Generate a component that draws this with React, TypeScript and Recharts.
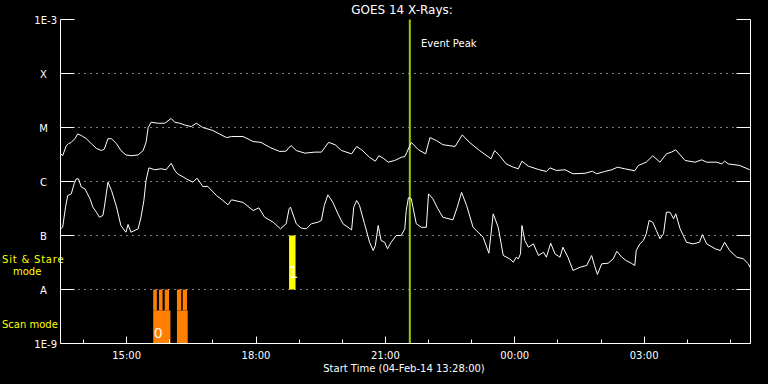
import React from "react";
import { ComposedChart, Line, XAxis, YAxis, ReferenceLine, ReferenceArea } from "recharts";

// minutes after the start time (04-Feb-14 13:28:00), flux in W/m^2
const longTime = [0, 3, 8, 11, 15, 20, 24, 29, 36, 43, 50, 57, 61, 66, 71, 78, 84, 91, 98, 108, 115, 119, 122, 126, 136, 145, 154, 159, 166, 173, 182, 189, 198, 212, 221, 231, 238, 254, 268, 279, 291, 305, 314, 318, 321, 328, 340, 354, 363, 368, 373, 382, 391, 405, 412, 419, 430, 438, 443, 449, 456, 465, 474, 479, 482, 488, 498, 508, 514, 523, 532, 549, 559, 569, 583, 599, 604, 611, 620, 630, 637, 642, 651, 665, 676, 681, 690, 702, 713, 730, 740, 746, 757, 767, 775, 785, 799, 804, 815, 824, 834, 843, 850, 856, 869, 883, 892, 899, 913, 920, 924, 929, 945, 959];
const longFlux = [3.3e-6, 3.0e-6, 4.6e-6, 5.0e-6, 5.3e-6, 6.2e-6, 7.6e-6, 7.1e-6, 6.2e-6, 5.0e-6, 4.1e-6, 3.75e-6, 4.0e-6, 6.2e-6, 6.2e-6, 5.0e-6, 3.75e-6, 3.1e-6, 3.0e-6, 3.1e-6, 3.75e-6, 5.3e-6, 1.0e-5, 1.25e-5, 1.2e-5, 1.2e-5, 1.47e-5, 1.25e-5, 1.2e-5, 1.11e-5, 1.04e-5, 1.2e-5, 1.0e-5, 8.8e-6, 7.6e-6, 6.5e-6, 6.8e-6, 6.8e-6, 5.5e-6, 5.3e-6, 4.3e-6, 3.6e-6, 3.65e-6, 4.3e-6, 4.6e-6, 3.75e-6, 3.35e-6, 3.5e-6, 3.5e-6, 4.3e-6, 5.3e-6, 4.8e-6, 3.75e-6, 3.25e-6, 4.45e-6, 3.86e-6, 2.8e-6, 2.38e-6, 3.0e-6, 2.7e-6, 2.28e-6, 2.45e-6, 2.8e-6, 2.9e-6, 3.5e-6, 5.3e-6, 3.86e-6, 3.25e-6, 6.5e-6, 5.74e-6, 4.8e-6, 4.45e-6, 7.3e-6, 5.3e-6, 3.75e-6, 2.63e-6, 3.75e-6, 3.0e-6, 2.12e-6, 1.84e-6, 1.72e-6, 2.38e-6, 1.92e-6, 1.67e-6, 1.53e-6, 1.79e-6, 1.6e-6, 1.65e-6, 1.39e-6, 1.42e-6, 1.55e-6, 1.39e-6, 1.53e-6, 1.65e-6, 1.84e-6, 1.72e-6, 1.58e-6, 1.98e-6, 2.28e-6, 3.0e-6, 2.28e-6, 3.25e-6, 3.5e-6, 3.86e-6, 2.45e-6, 2.28e-6, 2.52e-6, 2.28e-6, 2.28e-6, 2.12e-6, 2.38e-6, 2.12e-6, 1.98e-6, 1.65e-6];

const shortTime = [0, 3, 7, 10, 15, 19, 22, 25, 29, 34, 41, 45, 50, 54, 59, 61, 66, 71, 78, 84, 91, 94, 98, 108, 112, 116, 119, 123, 131, 140, 147, 154, 159, 163, 175, 184, 190, 198, 205, 217, 226, 233, 238, 254, 268, 276, 284, 296, 306, 314, 318, 320, 328, 335, 342, 349, 358, 363, 367, 372, 379, 386, 393, 400, 405, 408, 412, 416, 423, 430, 435, 438, 442, 446, 451, 455, 460, 467, 474, 479, 481, 484, 488, 495, 502, 509, 512, 518, 525, 532, 546, 552, 558, 565, 574, 588, 596, 602, 609, 616, 625, 630, 634, 637, 640, 642, 646, 651, 658, 665, 672, 676, 682, 688, 695, 699, 706, 713, 723, 732, 739, 743, 747, 753, 762, 769, 774, 781, 787, 794, 799, 801, 806, 811, 815, 819, 824, 829, 834, 839, 843, 848, 853, 856, 862, 871, 880, 889, 893, 899, 911, 918, 924, 931, 941, 950, 957, 959];
const shortFlux = [1.33e-7, 1.42e-7, 3.35e-7, 5.5e-7, 5.9e-7, 9.1e-7, 1.12e-6, 1.12e-6, 7.85e-7, 7.3e-7, 4.8e-7, 3.35e-7, 2.7e-7, 2.18e-7, 2.35e-7, 3.35e-7, 9.7e-7, 6.8e-7, 3.35e-7, 1.53e-7, 1.15e-7, 1.6e-7, 1.15e-7, 1.33e-7, 2.18e-7, 4.45e-7, 1.04e-6, 1.79e-6, 1.65e-6, 1.72e-6, 1.65e-6, 2.18e-6, 1.6e-6, 1.39e-6, 1.12e-6, 9.7e-7, 1.15e-6, 8.1e-7, 8.1e-7, 5.5e-7, 4.45e-7, 3.7e-7, 4.58e-7, 4.1e-7, 2.9e-7, 3.25e-7, 2.18e-7, 1.76e-7, 1.33e-7, 1.65e-7, 3.12e-7, 3.35e-7, 1.65e-7, 1.37e-7, 1.33e-7, 1.65e-7, 1.76e-7, 1.9e-7, 3.6e-7, 5.67e-7, 4.1e-7, 2.52e-7, 1.65e-7, 1.42e-7, 1.27e-7, 3.35e-7, 4.45e-7, 3.6e-7, 1.65e-7, 7.5e-8, 5.27e-8, 6.5e-8, 1.53e-7, 8.07e-8, 7.5e-8, 5.67e-8, 7.5e-8, 1.0e-7, 1.0e-7, 1.33e-7, 2.9e-7, 5.0e-7, 4.8e-7, 1.65e-7, 1.42e-7, 1.42e-7, 5.9e-7, 4.8e-7, 3.12e-7, 2.18e-7, 1.95e-7, 3.35e-7, 6.3e-7, 3.6e-7, 1.42e-7, 9.3e-8, 4.7e-8, 2.52e-7, 1.42e-7, 4.26e-8, 3.7e-8, 3.2e-8, 3.96e-8, 3.7e-8, 4.58e-8, 1.53e-7, 8.07e-8, 6.07e-8, 7.0e-8, 4.26e-8, 4.9e-8, 3.96e-8, 7.2e-8, 4.58e-8, 3.96e-8, 6.07e-8, 3.96e-8, 2.25e-8, 2.59e-8, 2.78e-8, 4.26e-8, 2.78e-8, 1.9e-8, 2.99e-8, 3.07e-8, 3.7e-8, 5.1e-8, 3.96e-8, 3.44e-8, 3.07e-8, 2.78e-8, 5.27e-8, 7.0e-8, 8.07e-8, 1.08e-7, 1.9e-7, 1.76e-7, 1.24e-7, 8.7e-8, 1.08e-7, 2.7e-7, 2.7e-7, 2.04e-7, 2.52e-7, 1.33e-7, 7.5e-8, 7.0e-8, 7.5e-8, 1.04e-7, 7.0e-8, 5.67e-8, 5.27e-8, 7.5e-8, 5.27e-8, 3.96e-8, 3.7e-8, 2.99e-8, 2.59e-8];

const hourTicks = [32, 92, 152, 212, 272, 332, 392, 452, 512, 572, 632, 692, 752, 812, 872, 932];
const hourLabels = ["", "15:00", "", "", "18:00", "", "", "21:00", "", "", "00:00", "", "", "03:00", "", ""];

const fluxTicks = [1e-9, 1e-8, 1e-7, 1e-6, 1e-5, 1e-4, 1e-3];
const fluxLabels = ["1E-9", "A", "B", "C", "M", "X", "1E-3"];
const gridLevels = [1e-8, 1e-7, 1e-6, 1e-5, 1e-4];

// scan mode blocks (orange) and sit & stare block (yellow)
const scanStart = [129, 137, 145, 162, 170, 129, 162];
const scanEnd = [134, 142, 151, 168, 176, 153, 177];
const scanBottom = [4.1e-9, 4.1e-9, 4.1e-9, 4.1e-9, 4.1e-9, 1e-9, 1e-9];
const scanTop = [1e-8, 1e-8, 1e-8, 1e-8, 1e-8, 4.1e-9, 4.1e-9];
const scanTag = ["", "", "", "", "", "0", ""];

const stareStart = [318];
const stareEnd = [327];
const stareBottom = [1e-8];
const stareTop = [1e-7];
const stareTag = ["1"];

const eventPeak = [486];

const FONT = "'DejaVu Sans', sans-serif";
const WHITE = "#ffffff";

const longData = longTime.map((t, i) => ({ t, flux: longFlux[i] }));
const shortData = shortTime.map((t, i) => ({ t, flux: shortFlux[i] }));

const px = (v: number) => Math.floor(v) + 0.5;

const BottomTick = (props: any) => {
  const { x, y, payload } = props;
  const label = hourLabels[hourTicks.indexOf(payload.value)] || "";
  const major = label !== "";
  return (
    <g>
      <line x1={px(x)} x2={px(x)} y1={y} y2={y - (major ? 7 : 4)} stroke={WHITE} />
      {major && (
        <text x={x} y={y + 15.5} textAnchor="middle" fill={WHITE} fontSize={10} fontFamily={FONT}>
          {label}
        </text>
      )}
    </g>
  );
};

const TopTick = (props: any) => {
  const { x, y, payload } = props;
  const major = (hourLabels[hourTicks.indexOf(payload.value)] || "") !== "";
  return <line x1={px(x)} x2={px(x)} y1={y} y2={y + (major ? 6 : 4)} stroke={WHITE} />;
};

const LeftTick = (props: any) => {
  const { x, y, payload } = props;
  const label = fluxLabels[fluxTicks.indexOf(payload.value)] || "";
  const numeric = label.startsWith("1E");
  return (
    <g>
      <line x1={x} x2={x + 14} y1={y} y2={y} stroke={WHITE} />
      <text
        x={numeric ? x - 3.5 : x - 17}
        y={y + 4}
        textAnchor={numeric ? "end" : "middle"}
        fill={WHITE}
        fontSize={10}
        fontFamily={FONT}
      >
        {label}
      </text>
    </g>
  );
};

const RightTick = (props: any) => {
  const { x, y } = props;
  return <line x1={x - 14} x2={x} y1={y} y2={y} stroke={WHITE} />;
};

// mode number drawn inside the lower left of a mode block
const modeTag = (tag: string, dx: number, dy: number, size: number, color: string) =>
  tag
    ? (p: any) => {
        const vb = p.viewBox || {};
        return (
          <text
            x={vb.x + dx}
            y={vb.y + vb.height - dy}
            textAnchor="middle"
            fill={color}
            fontSize={size}
            fontFamily={FONT}
          >
            {tag}
          </text>
        );
      }
    : undefined;

export default function App() {
  return (
    <div style={{ position: "absolute", left: 0, top: 0, width: 768, height: 384, background: "#000" }}>
      <ComposedChart width={768} height={384} margin={{ top: 19.5, right: 0, bottom: 0, left: 0 }}>
        <XAxis
          xAxisId="b"
          dataKey="t"
          type="number"
          domain={[0, 960]}
          ticks={hourTicks}
          interval={0}
          height={40.5}
          tickSize={0}
          tickMargin={0}
          tickLine={false}
          axisLine={{ stroke: WHITE }}
          tick={<BottomTick />}
          allowDataOverflow
        />
        <XAxis
          xAxisId="t"
          orientation="top"
          dataKey="t"
          type="number"
          domain={[0, 960]}
          ticks={hourTicks}
          interval={0}
          height={0}
          tickSize={0}
          tickMargin={0}
          tickLine={false}
          axisLine={{ stroke: WHITE }}
          tick={<TopTick />}
          allowDataOverflow
        />
        <YAxis
          yAxisId="l"
          scale="log"
          type="number"
          domain={[1e-9, 1e-3]}
          ticks={fluxTicks}
          interval={0}
          width={60.5}
          tickSize={0}
          tickMargin={0}
          tickLine={false}
          axisLine={{ stroke: WHITE }}
          tick={<LeftTick />}
          allowDataOverflow
        />
        <YAxis
          yAxisId="r"
          orientation="right"
          scale="log"
          type="number"
          domain={[1e-9, 1e-3]}
          ticks={fluxTicks}
          interval={0}
          width={17.5}
          tickSize={0}
          tickMargin={0}
          tickLine={false}
          axisLine={{ stroke: WHITE }}
          tick={<RightTick />}
          allowDataOverflow
        />

        {gridLevels.map((v) => (
          <ReferenceLine key={v} xAxisId="b" yAxisId="l" y={v} stroke={WHITE} strokeDasharray="1 5" />
        ))}

        {scanStart.map((s, i) => (
          <ReferenceArea
            key={"scan" + i}
            xAxisId="b"
            yAxisId="l"
            x1={s}
            x2={scanEnd[i]}
            y1={scanBottom[i]}
            y2={scanTop[i]}
            fill="#ff8000"
            fillOpacity={1}
            stroke="none"
            label={modeTag(scanTag[i], 5, 5.5, 14, "#fff8e8")}
          />
        ))}
        {stareStart.map((s, i) => (
          <ReferenceArea
            key={"stare" + i}
            xAxisId="b"
            yAxisId="l"
            x1={s}
            x2={stareEnd[i]}
            y1={stareBottom[i]}
            y2={stareTop[i]}
            fill="#ffff00"
            fillOpacity={1}
            stroke="none"
            label={modeTag(stareTag[i], 4.5, 11.5, 15, WHITE)}
          />
        ))}

        {eventPeak.map((t) => (
          <ReferenceLine key={t} xAxisId="b" yAxisId="l" x={t} stroke="#99cc00" strokeWidth={2} />
        ))}

        <Line
          xAxisId="b"
          yAxisId="l"
          data={longData}
          dataKey="flux"
          type="linear"
          stroke={WHITE}
          strokeWidth={1}
          dot={false}
          activeDot={false}
          isAnimationActive={false}
        />
        <Line
          xAxisId="b"
          yAxisId="l"
          data={shortData}
          dataKey="flux"
          type="linear"
          stroke={WHITE}
          strokeWidth={1}
          dot={false}
          activeDot={false}
          isAnimationActive={false}
        />

        <text x={402} y={14} textAnchor="middle" fill={WHITE} fontSize={12} fontFamily={FONT}>
          GOES 14 X-Rays:
        </text>
        <text x={421} y={47} fill={WHITE} fontSize={10} fontFamily={FONT}>
          Event Peak
        </text>
        <text x={404} y={372} textAnchor="middle" fill={WHITE} fontSize={10} fontFamily={FONT}>
          Start Time (04-Feb-14 13:28:00)
        </text>
        <text x={2} y={263} fill="#ffff00" fontSize={10} fontFamily={FONT} letterSpacing={0.8}>
          Sit &amp; Stare
        </text>
        <text x={13} y={275} fill="#ffff00" fontSize={10} fontFamily={FONT}>
          mode
        </text>
        <text x={2} y={328} fill="#ffff00" fontSize={10} fontFamily={FONT}>
          Scan mode
        </text>
      </ComposedChart>
    </div>
  );
}
